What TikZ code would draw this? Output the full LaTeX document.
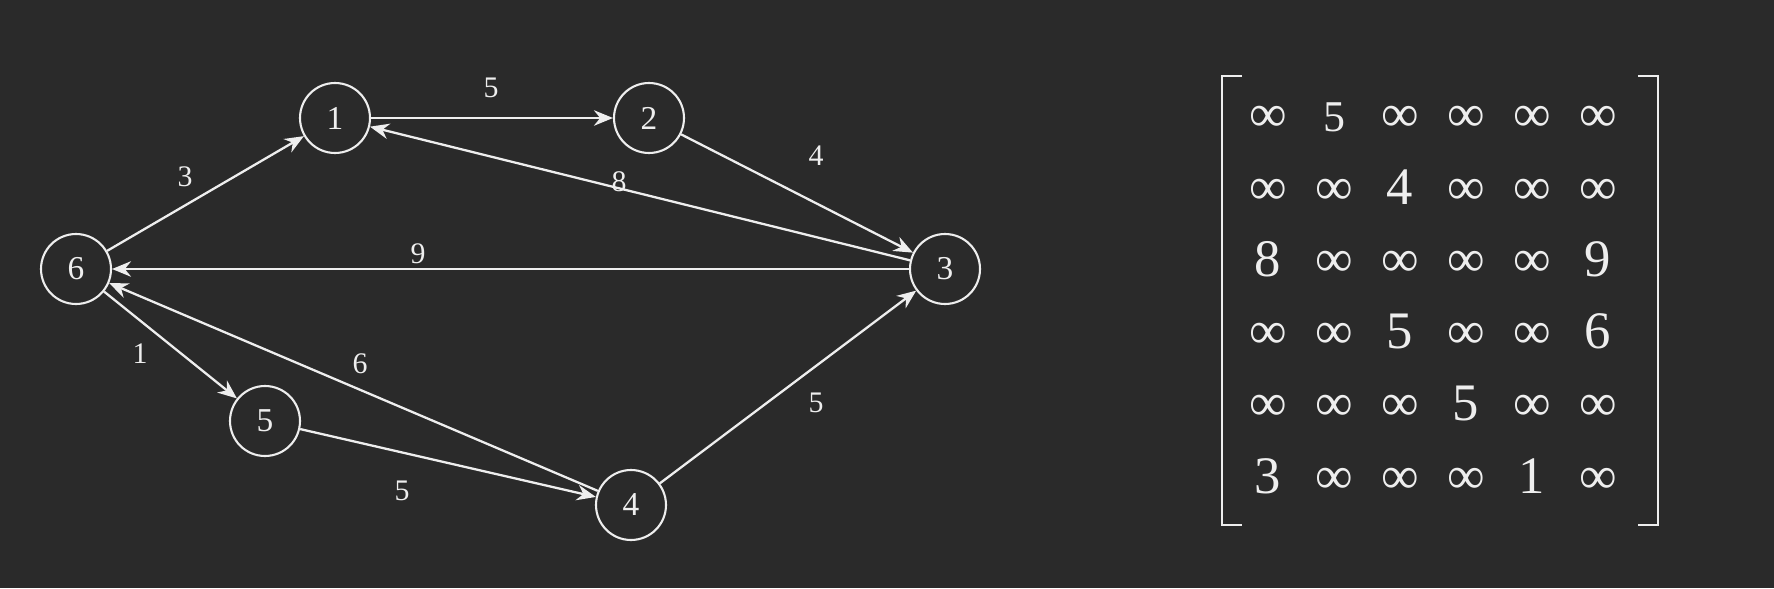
\documentclass[tikz,border=0pt]{standalone}
\usepackage{fontspec}
\setmainfont{Liberation Serif}
\usetikzlibrary{arrows.meta,positioning}

\definecolor{board}{RGB}{42,42,42}
\definecolor{chalk}{RGB}{238,238,238}
\newcommand\smalldigit[1]{{\fontsize{25}{28}\selectfont #1}}

\begin{document}
\begin{tikzpicture}[
    x=0.02cm,y=-0.02cm,
    font=\fontsize{17}{20}\selectfont,
    vertex/.style={draw=chalk,circle,line width=1.2pt,minimum size=1.4cm,inner sep=0pt,text=chalk,font=\fontsize{19}{22}\selectfont},
    edge/.style={draw=chalk,line width=1.3pt,-{Stealth[length=3.8mm,width=3.1mm]}},
    weight/.style={text=chalk,inner sep=1pt},
    entry/.style={text=chalk,anchor=base,inner sep=0pt,font=\fontsize{30}{34}\selectfont},
    bracket/.style={draw=chalk,line width=1.4pt}
]
\fill[board] (0,0) rectangle (1774,588);
\useasboundingbox (0,0) rectangle (1774,588);

% graph
\node[vertex] (v1) at (335,118) {1};
\node[vertex] (v2) at (649,118) {2};
\node[vertex] (v3) at (945,269) {3};
\node[vertex] (v4) at (631,505) {4};
\node[vertex] (v5) at (265,421) {5};
\node[vertex] (v6) at (76,269) {6};

\draw[edge] (v1) -- (v2);
\draw[edge] (v2) -- (v3);
\draw[edge] (v3) -- (v1);
\draw[edge] (v3) -- (v6);
\draw[edge] (v6) -- (v1);
\draw[edge] (v6) -- (v5);
\draw[edge] (v5) -- (v4);
\draw[edge] (v4) -- (v6);
\draw[edge] (v4) -- (v3);

\node[weight] (w12) at (491,88) {5};
\node[weight] (w23) at (816,156) {4};
\node[weight] (w31) at (619,182) {8};
\node[weight] (w61) at (185,177) {3};
\node[weight] (w36) at (418,254) {9};
\node[weight] (w65) at (140,354) {1};
\node[weight] (w46) at (360,364) {6};
\node[weight] (w54) at (402,491) {5};
\node[weight] (w43) at (816,403) {5};

% adjacency matrix
\foreach \r/\row in {1/{∞,\smalldigit{5},∞,∞,∞,∞},
                     2/{∞,∞,4,∞,∞,∞},
                     3/{8,∞,∞,∞,∞,9},
                     4/{∞,∞,5,∞,∞,6},
                     5/{∞,∞,∞,5,∞,∞},
                     6/{3,∞,∞,∞,1,∞}}
  \foreach \e [count=\c] in \row
    \node[entry] (m\r\c) at ({1268+66*(\c-1)},{132+72.2*(\r-1)}) {\e};

\draw[bracket] (1242,76) -- (1222,76) -- (1222,525) -- (1242,525);
\draw[bracket] (1638,76) -- (1658,76) -- (1658,525) -- (1638,525);
\end{tikzpicture}
\end{document}
